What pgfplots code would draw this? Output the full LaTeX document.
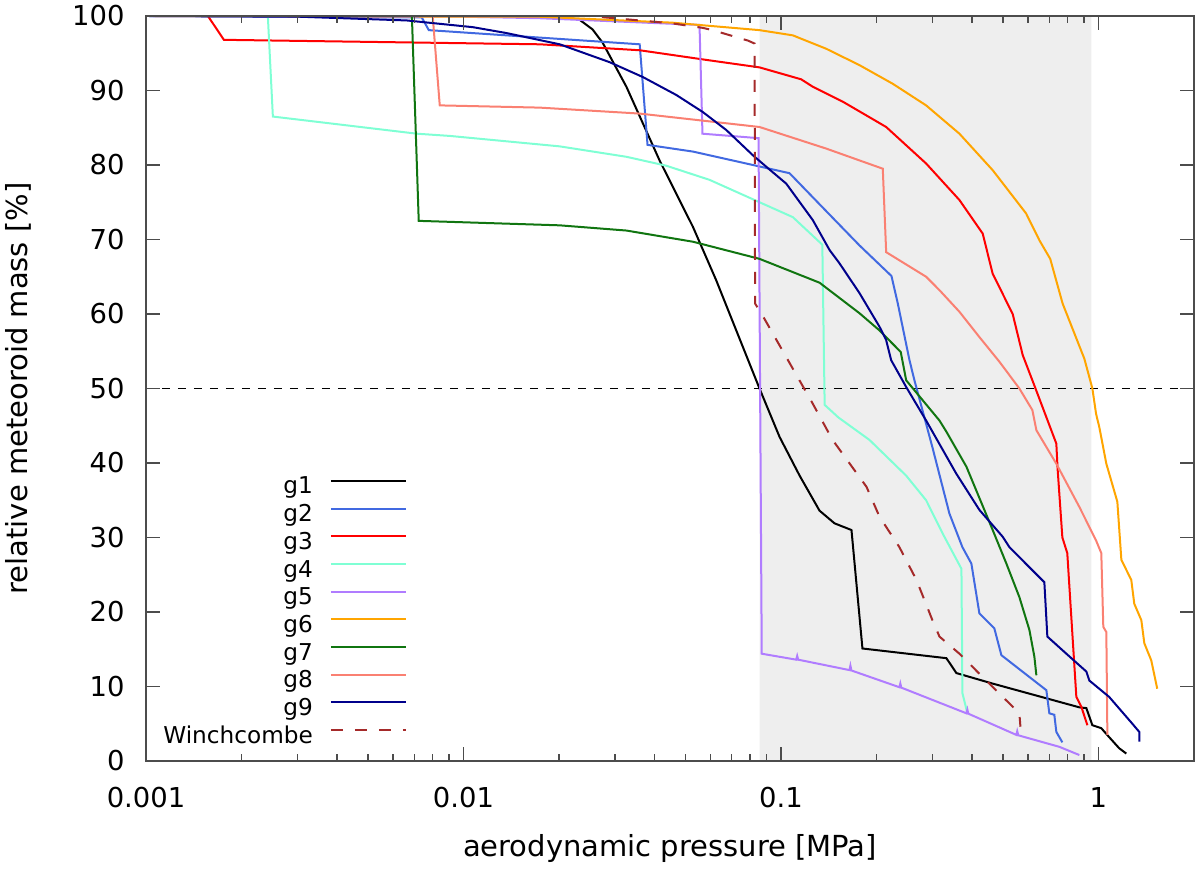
\documentclass[border=0pt]{standalone}
\usepackage{fontspec}
\setmainfont{DejaVu Sans}
\usepackage{pgfplots}
\pgfplotsset{compat=1.18}

\definecolor{gtwo}{HTML}{4169E1}
\definecolor{gfour}{HTML}{7FFFD4}
\definecolor{gfive}{HTML}{B07CFF}
\definecolor{gsix}{HTML}{FFA500}
\definecolor{gseven}{HTML}{107510}
\definecolor{geight}{HTML}{FA8072}
\definecolor{gnine}{HTML}{00008B}
\definecolor{winch}{HTML}{A52A2A}
\definecolor{shade}{HTML}{EEEEEE}

\begin{document}
\fontsize{13.7pt}{16pt}\selectfont
\begin{tikzpicture}
\useasboundingbox (-73pt,-54.5pt) rectangle (527pt,380.5pt);
\begin{axis}[
  at={(0,0)}, anchor=south west,
  scale only axis, width=524pt, height=372.5pt,
  xmode=log, xmin=0.001, xmax=2, ymin=0, ymax=100,
  xtick={0.001,0.01,0.1,1}, xticklabels={0.001,0.01,0.1,1},
  minor xtick={0.002,0.003,0.004,0.005,0.006,0.007,0.008,0.009,
               0.02,0.03,0.04,0.05,0.06,0.07,0.08,0.09,
               0.2,0.3,0.4,0.5,0.6,0.7,0.8,0.9},
  ytick={0,10,...,100},
  tick align=inside,
  major tick length=7pt, minor tick length=3.5pt,
  axis line style={black!70, line width=0.7pt},
  every tick/.style={black!70, line width=0.7pt},
  axis on top,
  /pgf/number format/assume math mode=true,
  yticklabel style={xshift=-6pt},
  xticklabel style={yshift=-8.4pt},
  xlabel={aerodynamic pressure [MPa]},
  ylabel={relative meteoroid mass [\%]},
  xlabel style={at={(axis description cs:0.5,0)}, anchor=base, yshift=-48pt,
                font=\fontsize{14.5pt}{17pt}\selectfont},
  ylabel style={at={(axis description cs:-0.1345,0.5)}, anchor=north, inner sep=0pt,
                font=\fontsize{14.5pt}{17pt}\selectfont},
  legend plot pos=right,
  legend cell align=right,
  legend image code/.code={\draw[#1] (0pt,4.5pt) -- (37.5pt,4.5pt);},
  legend style={at={(0.249,0.3826)}, anchor=north east, draw=none, fill=none,
                inner sep=0pt, outer sep=0pt, row sep=0pt, column sep=8.5pt,
                font=\fontsize{11.6pt}{13pt}\selectfont,
                nodes={inner sep=0pt, text height=9pt, text depth=4.85pt}},
  every axis plot/.append style={line width=1pt},
]
% shaded pressure range
\addplot[draw=none, fill=shade, forget plot] coordinates {
  (0.0856,0) (0.95,0) (0.95,100) (0.0856,100)} \closedcycle;
% 50 % level
\addplot[black, line width=0.6pt, dash pattern=on 4pt off 4pt, forget plot]
  coordinates {(0.001,50) (2,50)};

\addplot[black] coordinates {
  (0.001,100) (0.02,100) (0.0232,99.5) (0.0255,98.2) (0.02745,96.4)
  (0.0326,90.5) (0.04148,80.6) (0.05281,71.7) (0.06257,64.5) (0.0856,50.0)
  (0.099,43.5) (0.1145,38.3) (0.1323,33.6) (0.1475,31.9) (0.1668,31.0)
  (0.1806,15.1) (0.332,13.8) (0.357,11.8) (0.4634,10.4) (0.871,7.2)
  (0.916,7.1) (0.957,4.8) (1.021,4.4) (1.081,3.2) (1.163,1.7) (1.224,1.0)};
\addlegendentry{g1}

\addplot[gtwo] coordinates {
  (0.001,100) (0.00739,99.8) (0.00778,98.1) (0.01739,97.1) (0.0359,96.2)
  (0.0380,82.7) (0.05281,81.8) (0.0856,79.8) (0.1064,78.9) (0.1389,73.8)
  (0.1768,69.2) (0.2229,65.1) (0.2334,61.4) (0.254,53.8) (0.2633,51.1)
  (0.300,42.1) (0.3394,33.2) (0.3729,28.7) (0.398,26.5) (0.4218,19.8)
  (0.470,17.8) (0.4947,14.2) (0.6855,9.5) (0.7006,6.4) (0.7263,6.2)
  (0.737,3.9) (0.770,2.5)};
\addlegendentry{g2}

\addplot[red] coordinates {
  (0.001,100) (0.001567,100) (0.00176,96.8) (0.01739,96.2) (0.0359,95.4)
  (0.0583,94.1) (0.0856,93.1) (0.1158,91.5) (0.1260,90.5) (0.1566,88.5)
  (0.2145,85.1) (0.2866,80.2) (0.3649,75.3) (0.4319,70.8) (0.4645,65.4)
  (0.5369,60.0) (0.5773,54.5) (0.6362,49.8) (0.737,42.6) (0.743,39.5)
  (0.770,30.0) (0.798,27.9) (0.852,8.6) (0.883,7.3) (0.923,4.8)};
\addlegendentry{g3}

\addplot[gfour] coordinates {
  (0.001,100) (0.00242,100) (0.00251,86.5) (0.00713,84.2) (0.00906,83.9)
  (0.02009,82.5) (0.0326,81.1) (0.04355,79.9) (0.05962,78.0) (0.0856,75.0)
  (0.1090,73.0) (0.1350,69.3) (0.1373,47.8) (0.1518,46.1) (0.190,43.1)
  (0.248,38.3) (0.2866,35.0) (0.3234,30.5) (0.3703,25.8) (0.3729,9.1)
  (0.3867,6.4)};
\addlegendentry{g4}

\addplot[gfive] coordinates {
  (0.001,100) (0.01,99.9) (0.01739,99.7) (0.0554,98.8) (0.0566,84.2)
  (0.0850,83.6) (0.0870,14.4) (0.1117,13.6) (0.1125,14.1) (0.1133,13.6)
  (0.1644,12.2) (0.1655,12.8) (0.1667,12.15) (0.2361,9.9) (0.2377,10.4)
  (0.2393,9.85) (0.3839,6.4) (0.3866,6.9) (0.3893,6.35) (0.5515,3.5)
  (0.555,4.0) (0.559,3.45) (0.7534,1.9) (0.8708,0.8)};
\addlegendentry{g5}

\addplot[gsix] coordinates {
  (0.001,100) (0.01739,99.9) (0.0456,99.1) (0.0856,98.1) (0.1090,97.4)
  (0.1389,95.6) (0.1768,93.4) (0.2250,90.9) (0.2866,88.0) (0.3649,84.2)
  (0.4645,79.3) (0.5917,73.5) (0.6516,69.9) (0.705,67.4) (0.7714,61.4)
  (0.9029,54.0) (0.957,50.0) (0.983,46.6) (1.0065,44.8) (1.059,39.9)
  (1.147,34.8) (1.181,27.0) (1.269,24.3) (1.297,21.1) (1.365,18.9)
  (1.395,15.8) (1.467,13.5) (1.532,9.7)};
\addlegendentry{g6}

\addplot[gseven] coordinates {
  (0.001,100) (0.00688,100) (0.00723,72.5) (0.02009,71.9) (0.0326,71.2)
  (0.05281,69.7) (0.0856,67.4) (0.1323,64.2) (0.1768,60.1) (0.2043,57.8)
  (0.2384,54.9) (0.2480,51.1) (0.3157,45.7) (0.332,44.2) (0.3839,39.5)
  (0.4645,31.0) (0.5129,26.5) (0.5636,22.0) (0.6061,17.6) (0.6284,14.0)
  (0.6376,11.5)};
\addlegendentry{g7}

\addplot[geight] coordinates {
  (0.001,100) (0.0080,100) (0.00842,88.0) (0.01739,87.7) (0.0359,86.9)
  (0.0856,85.1) (0.1389,82.2) (0.2093,79.5) (0.2145,68.3) (0.2866,65.0)
  (0.3157,63.2) (0.3649,60.3) (0.4218,56.9) (0.4875,53.6) (0.5636,50.0)
  (0.6194,47.1) (0.6376,44.4) (0.737,39.9) (0.8708,34.1) (0.983,29.6)
  (1.021,27.9) (1.036,18.0) (1.059,17.3) (1.067,3.5)};
\addlegendentry{g8}

\addplot[gnine] coordinates {
  (0.001,100) (0.00305,99.9) (0.00663,99.4) (0.0107,98.5) (0.01369,97.7)
  (0.02009,96.2) (0.02886,93.8) (0.03675,91.8) (0.0468,89.4) (0.05677,87.1)
  (0.06725,84.7) (0.0816,81.3) (0.0920,79.4) (0.1039,77.5) (0.1260,72.6)
  (0.1422,68.6) (0.1529,66.8) (0.1768,62.8) (0.2043,58.3) (0.2145,56.5)
  (0.2224,53.8) (0.2480,50.2) (0.2866,45.7) (0.3563,38.6) (0.4218,33.7)
  (0.4994,30.1) (0.5244,28.7) (0.6194,25.6) (0.6756,24.0) (0.6905,16.7)
  (0.7925,14.4) (0.9162,12.0) (0.936,10.8) (1.081,8.6) (1.279,5.0)
  (1.345,3.9) (1.345,2.6)};
\addlegendentry{g9}

\addplot[winch, dash pattern=on 6pt off 6pt] coordinates {
  (0.001,100) (0.02496,100) (0.0456,99.0) (0.05677,98.4) (0.0609,98.1)
  (0.0787,96.7) (0.0826,96.3) (0.0829,61.4) (0.0875,59.8) (0.1258,48.0)
  (0.1454,43.1) (0.186,36.8) (0.2043,32.8) (0.2361,28.7) (0.2672,24.3)
  (0.300,18.9) (0.3157,16.7) (0.3649,14.4) (0.4312,11.3) (0.5636,6.4)
  (0.568,4.6)};
\addlegendentry{Winchcombe}
\end{axis}
\end{tikzpicture}
\end{document}
